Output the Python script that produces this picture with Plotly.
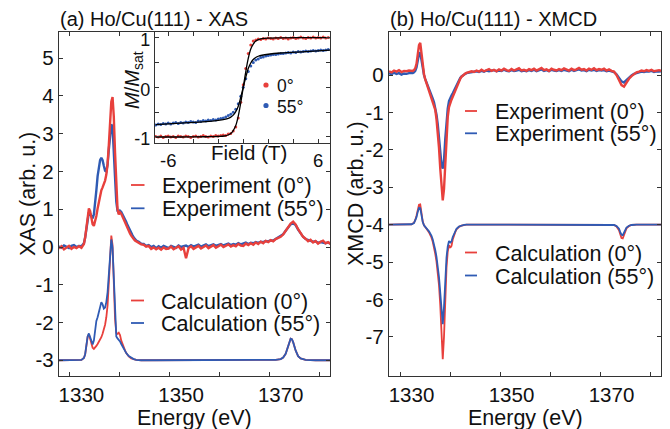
import plotly.graph_objects as go

# ---------------- data ----------------
E_EXP = [1325.5, 1326.0, 1326.5, 1327.0, 1327.5, 1328.0, 1328.5, 1329.0, 1329.5, 1330.0,
         1330.25, 1330.5, 1330.75, 1331.0, 1331.25, 1331.5, 1331.75, 1332.0, 1332.25, 1332.5,
         1332.75, 1333.0, 1333.25, 1333.5, 1333.75, 1334.0, 1334.25, 1334.5, 1334.75, 1335.0,
         1335.25, 1335.5, 1335.75, 1336.0, 1336.25, 1336.5, 1336.75, 1337.0, 1337.25, 1337.5,
         1337.75, 1338.0, 1338.25, 1338.5, 1338.75, 1339.0, 1339.25, 1339.5, 1339.75, 1340.0,
         1340.25, 1340.5, 1340.75, 1341.0,
         1341.5, 1342.0, 1342.5, 1343.0, 1343.5, 1344.0, 1344.5, 1345.0, 1345.5, 1346.0,
         1346.5, 1347.0, 1347.5, 1348.0, 1348.5, 1349.0, 1349.5, 1350.0, 1350.5, 1351.0,
         1351.5, 1352.0, 1352.5, 1353.0, 1353.5, 1354.0, 1354.5, 1355.0, 1355.5, 1356.0,
         1356.5, 1357.0, 1357.5, 1358.0, 1358.5, 1359.0, 1359.5, 1360.0, 1360.5, 1361.0,
         1361.5, 1362.0, 1362.5, 1363.0, 1363.5, 1364.0, 1364.5, 1365.0, 1365.5, 1366.0,
         1366.5, 1367.0, 1367.5, 1368.0, 1368.5, 1369.0, 1369.5, 1370.0, 1370.5, 1371.0,
         1371.5, 1372.0, 1372.5, 1373.0, 1373.5, 1374.0, 1374.5, 1375.0, 1375.5, 1376.0,
         1376.5, 1377.0, 1377.5, 1378.0, 1378.5, 1379.0, 1379.5, 1380.0]

XAS_EXP_0 = [-0.04, 0.02, -0.06, -0.01, 0.03, -0.05, 0.0, -0.03, 0.02, -0.02,
             0.02, 0.08, 0.25, 0.55, 0.88, 1.02, 0.95, 0.74, 0.60, 0.56,
             0.66, 0.82, 1.02, 1.22, 1.38, 1.50, 1.58, 1.66, 1.76, 1.92,
             2.20, 2.70, 3.35, 3.85, 3.97, 3.45, 2.50, 1.55, 1.00, 0.86,
             0.92, 0.88, 0.80, 0.76, 0.66, 0.60, 0.50, 0.43, 0.36, 0.30,
             0.24, 0.21, 0.17, 0.15,
             0.12, 0.07, 0.06, 0.01, 0.03, -0.05, -0.01, -0.06, -0.02, -0.07,
             -0.01, -0.05, -0.04, 0.01, -0.06, -0.03, 0.02, -0.07, -0.02, -0.30,
             -0.03, 0.02, -0.05, -0.01, 0.03, -0.04, 0.01, 0.04, -0.03, 0.02,
             0.05, -0.02, 0.01, 0.06, 0.0, 0.03, 0.07, 0.01, 0.05, 0.02,
             0.08, 0.04, 0.03, 0.09, 0.05, 0.10, 0.06, 0.12, 0.08, 0.14,
             0.10, 0.16, 0.13, 0.18, 0.15, 0.21, 0.23, 0.27, 0.33, 0.42,
             0.53, 0.62, 0.67, 0.60, 0.47, 0.36, 0.27, 0.22, 0.15, 0.19,
             0.12, 0.16, 0.09, 0.14, 0.17, 0.10, 0.13, 0.08]

XAS_EXP_55 = [0.02, -0.02, 0.04, 0.01, -0.03, 0.03, 0.05, 0.0, 0.03, 0.02,
              0.05, 0.10, 0.25, 0.52, 0.80, 0.92, 0.88, 0.80, 0.76, 0.86,
              1.12, 1.50, 1.88, 2.18, 2.30, 2.36, 2.30, 2.15, 2.02, 2.00,
              2.18, 2.58, 2.98, 3.25, 3.18, 2.65, 1.85, 1.20, 0.96, 0.90,
              0.96, 0.93, 0.87, 0.80, 0.73, 0.66, 0.58, 0.50, 0.43, 0.37,
              0.31, 0.25, 0.21, 0.17,
              0.14, 0.09, 0.08, 0.03, 0.05, 0.0, 0.03, -0.03, 0.02, -0.02,
              0.03, 0.0, -0.03, 0.03, 0.01, -0.02, 0.04, 0.0, 0.02, 0.04,
              0.0, 0.05, 0.01, 0.03, 0.06, 0.01, 0.04, 0.07, 0.02, 0.05,
              0.07, 0.03, 0.05, 0.08, 0.04, 0.06, 0.09, 0.05, 0.08, 0.06,
              0.10, 0.07, 0.09, 0.12, 0.08, 0.11, 0.10, 0.13, 0.11, 0.14,
              0.13, 0.16, 0.15, 0.18, 0.17, 0.21, 0.24, 0.28, 0.34, 0.43,
              0.53, 0.60, 0.63, 0.58, 0.46, 0.35, 0.27, 0.21, 0.18, 0.16,
              0.14, 0.15, 0.11, 0.13, 0.12, 0.10, 0.12, 0.09]

XMCD_EXP_0 = [0.10, 0.07, 0.12, 0.09, 0.13, 0.08, 0.11, 0.10, 0.12, 0.11,
              0.11, 0.13, 0.18, 0.30, 0.55, 0.80, 0.86, 0.55, 0.22, 0.02,
              -0.12, -0.22, -0.30, -0.38, -0.47, -0.57, -0.67, -0.78, -0.93, -1.18,
              -1.50, -1.95, -2.50, -3.05, -3.35, -3.05, -2.30, -1.60, -1.12, -0.86,
              -0.74, -0.66, -0.58, -0.50, -0.40, -0.31, -0.23, -0.16, -0.10, -0.05,
              -0.01, 0.02, 0.04, 0.06,
              0.07, 0.10, 0.08, 0.12, 0.09, 0.14, 0.10, 0.13, 0.16, 0.11,
              0.14, 0.10, 0.15, 0.12, 0.17, 0.13, 0.11, 0.16, 0.12, 0.15,
              0.18, 0.12, 0.14, 0.11, 0.16, 0.13, 0.17, 0.12, 0.15, 0.19,
              0.13, 0.15, 0.11, 0.17, 0.14, 0.12, 0.16, 0.13, 0.18, 0.14,
              0.12, 0.17, 0.13, 0.15, 0.19, 0.14, 0.16, 0.12, 0.17, 0.14,
              0.18, 0.13, 0.16, 0.14, 0.17, 0.12, 0.15, 0.11, 0.09, 0.0,
              -0.14, -0.27, -0.31, -0.20, -0.10, -0.03, 0.03, 0.07, 0.09, 0.12,
              0.10, 0.13, 0.11, 0.14, 0.10, 0.12, 0.13, 0.11]

XMCD_EXP_55 = [0.05, 0.02, 0.06, 0.03, 0.05, 0.01, 0.04, 0.03, 0.05, 0.04,
               0.05, 0.07, 0.11, 0.20, 0.38, 0.56, 0.60, 0.40, 0.15, 0.0,
               -0.11, -0.19, -0.27, -0.34, -0.43, -0.53, -0.63, -0.73, -0.86, -1.06,
               -1.32, -1.66, -2.05, -2.40, -2.50, -2.28, -1.72, -1.22, -0.90, -0.70,
               -0.60, -0.55, -0.49, -0.42, -0.34, -0.26, -0.19, -0.13, -0.08, -0.04,
               -0.01, 0.02, 0.03, 0.05,
               0.06, 0.08, 0.07, 0.10, 0.08, 0.11, 0.09, 0.12, 0.10, 0.11,
               0.13, 0.10, 0.12, 0.11, 0.14, 0.11, 0.10, 0.13, 0.11, 0.12,
               0.14, 0.10, 0.12, 0.10, 0.13, 0.11, 0.14, 0.10, 0.12, 0.15,
               0.11, 0.13, 0.10, 0.14, 0.12, 0.11, 0.13, 0.11, 0.14, 0.12,
               0.10, 0.14, 0.11, 0.13, 0.15, 0.12, 0.13, 0.10, 0.14, 0.12,
               0.14, 0.11, 0.13, 0.12, 0.13, 0.10, 0.12, 0.10, 0.08, 0.02,
               -0.08, -0.17, -0.20, -0.13, -0.06, -0.01, 0.03, 0.05, 0.07, 0.09,
               0.08, 0.10, 0.09, 0.11, 0.08, 0.10, 0.09, 0.10]

E_CALC = [1325.5, 1327.0, 1329.0, 1330.0, 1330.5, 1330.75, 1331.0, 1331.25, 1331.5, 1331.75,
          1332.0, 1332.25, 1332.5, 1332.75, 1333.0, 1333.25, 1333.5, 1333.75, 1334.0, 1334.25,
          1334.5, 1334.75, 1335.0, 1335.25, 1335.5, 1335.75, 1336.0, 1336.25, 1336.5, 1336.75,
          1337.0, 1337.25, 1337.5, 1337.75, 1338.0, 1338.25, 1338.5, 1338.75, 1339.0, 1339.5,
          1340.0, 1340.5, 1341.0, 1342.0, 1345.0, 1350.0, 1355.0, 1360.0, 1365.0, 1368.0,
          1369.0, 1370.0, 1370.5, 1371.0, 1371.5, 1371.75, 1372.0, 1372.25, 1372.5, 1373.0,
          1373.5, 1374.0, 1375.0, 1377.0, 1380.0]

XAS_CALC_0 = [-3.0, -3.0, -3.0, -2.99, -2.94, -2.85, -2.62, -2.38, -2.31, -2.42,
              -2.58, -2.67, -2.70, -2.67, -2.62, -2.57, -2.52, -2.46, -2.39, -2.30,
              -2.20, -2.06, -1.86, -1.55, -0.95, -0.25, 0.30, 0.05, -0.95, -1.90,
              -2.28, -2.30, -2.27, -2.33, -2.48, -2.58, -2.67, -2.74, -2.81, -2.90,
              -2.95, -2.98, -2.99, -3.0, -3.0, -3.0, -3.0, -3.0, -3.0, -3.0,
              -2.99, -2.97, -2.93, -2.83, -2.62, -2.50, -2.43, -2.44, -2.52, -2.74,
              -2.89, -2.95, -2.99, -3.0, -3.0]

XAS_CALC_55 = [-3.0, -3.0, -3.0, -2.99, -2.94, -2.84, -2.60, -2.37, -2.29, -2.38,
               -2.52, -2.58, -2.48, -2.20, -1.96, -1.86, -1.73, -1.56, -1.46, -1.52,
               -1.63, -1.60, -1.46, -1.20, -0.70, -0.20, 0.20, -0.02, -1.00, -1.95,
               -2.37, -2.42, -2.45, -2.50, -2.57, -2.64, -2.70, -2.76, -2.81, -2.89,
               -2.94, -2.97, -2.99, -3.0, -3.0, -3.0, -3.0, -3.0, -3.0, -3.0,
               -2.99, -2.97, -2.93, -2.83, -2.62, -2.50, -2.43, -2.44, -2.52, -2.74,
               -2.89, -2.95, -2.99, -3.0, -3.0]

XMCD_CALC_0 = [-4.0, -4.0, -4.0, -3.99, -3.95, -3.88, -3.76, -3.60, -3.47, -3.46,
               -3.70, -3.92, -4.02, -4.08, -4.12, -4.16, -4.21, -4.27, -4.35, -4.46,
               -4.60, -4.78, -4.99, -5.26, -5.62, -6.15, -6.95, -7.60, -7.00, -5.85,
               -5.15, -4.72, -4.55, -4.62, -4.57, -4.40, -4.28, -4.20, -4.13, -4.06,
               -4.03, -4.01, -4.0, -4.0, -4.0, -4.0, -4.0, -4.0, -4.0, -4.0,
               -4.0, -4.0, -4.01, -4.05, -4.15, -4.26, -4.36, -4.37, -4.27, -4.10,
               -4.04, -4.01, -4.0, -4.0, -4.0]

XMCD_CALC_55 = [-4.0, -4.0, -4.0, -3.99, -3.96, -3.90, -3.80, -3.66, -3.55, -3.56,
                -3.76, -3.93, -4.02, -4.07, -4.10, -4.14, -4.18, -4.23, -4.30, -4.40,
                -4.52, -4.68, -4.86, -5.08, -5.40, -5.82, -6.32, -6.66, -6.20, -5.40,
                -4.88, -4.58, -4.44, -4.48, -4.45, -4.33, -4.24, -4.17, -4.11, -4.05,
                -4.02, -4.01, -4.0, -4.0, -4.0, -4.0, -4.0, -4.0, -4.0, -4.0,
                -4.0, -4.0, -4.01, -4.04, -4.11, -4.20, -4.27, -4.28, -4.21, -4.08,
                -4.03, -4.01, -4.0, -4.0, -4.0]

FIELD = [-7.0, -6.8, -6.6, -6.4, -6.2, -6.0, -5.8, -5.6, -5.4, -5.2,
         -5.0, -4.8, -4.6, -4.4, -4.2, -4.0, -3.8, -3.6, -3.4, -3.2,
         -3.0, -2.8, -2.6, -2.4, -2.2, -2.0, -1.8, -1.6, -1.4, -1.2,
         -1.0, -0.8, -0.6, -0.4, -0.2, 0.0, 0.2, 0.4, 0.6, 0.8,
         1.0, 1.2, 1.4, 1.6, 1.8, 2.0, 2.2, 2.4, 2.6, 2.8,
         3.0, 3.2, 3.4, 3.6, 3.8, 4.0, 4.2, 4.4, 4.6, 4.8,
         5.0, 5.2, 5.4, 5.6, 5.8, 6.0, 6.2, 6.4, 6.6, 6.8]

M_0 = [-0.99, -1.00, -0.98, -1.01, -0.99, -0.98, -1.00, -0.99, -1.01, -0.98,
       -0.99, -1.00, -0.98, -0.99, -1.01, -0.99, -0.98, -1.00, -0.99, -0.97,
       -0.99, -1.00, -0.98, -0.99, -0.97, -0.98, -0.97, -0.96, -0.97, -0.94,
       -0.93, -0.88, -0.80, -0.62, -0.30, 0.05, 0.38, 0.68, 0.85, 0.93,
       0.95, 0.97, 0.96, 0.98, 0.97, 0.99, 0.98, 0.97, 0.99, 0.98,
       1.00, 0.98, 0.99, 0.97, 0.99, 1.00, 0.98, 0.99, 1.01, 0.99,
       0.98, 1.00, 0.99, 1.01, 0.99, 1.00, 0.99, 1.01, 0.99, 1.00]

M_55 = [-0.76, -0.74, -0.75, -0.73, -0.74, -0.72, -0.74, -0.72, -0.71, -0.73,
        -0.71, -0.72, -0.70, -0.71, -0.69, -0.70, -0.71, -0.68, -0.69, -0.67,
        -0.68, -0.66, -0.67, -0.65, -0.66, -0.64, -0.63, -0.62, -0.60, -0.57,
        -0.54, -0.50, -0.44, -0.33, -0.18, 0.0, 0.17, 0.32, 0.43, 0.50,
        0.55, 0.57, 0.60, 0.61, 0.63, 0.64, 0.65, 0.66, 0.66, 0.67,
        0.68, 0.68, 0.69, 0.70, 0.69, 0.71, 0.70, 0.72, 0.71, 0.72,
        0.73, 0.72, 0.73, 0.74, 0.73, 0.74, 0.75, 0.74, 0.75, 0.76]

FIELD_FIT = [-7.0, -5.0, -3.0, -2.0, -1.5, -1.2, -1.0, -0.8, -0.6, -0.4, -0.2, 0.0,
             0.2, 0.4, 0.6, 0.8, 1.0, 1.2, 1.5, 2.0, 3.0, 5.0, 7.0]
FIT_0 = [-1.0, -1.0, -0.995, -0.99, -0.98, -0.96, -0.93, -0.87, -0.77, -0.58, -0.31, 0.0,
         0.31, 0.58, 0.77, 0.87, 0.93, 0.96, 0.98, 0.99, 0.995, 1.0, 1.0]
FIT_55 = [-0.75, -0.72, -0.69, -0.665, -0.645, -0.625, -0.60, -0.56, -0.49, -0.38, -0.20, 0.0,
          0.20, 0.38, 0.49, 0.56, 0.60, 0.625, 0.645, 0.665, 0.69, 0.72, 0.75]

E_TICK_LABELS = [1330, 1350, 1370]
E_TICK_MARKS = [1327.7, 1337.7, 1347.7, 1357.7, 1367.7, 1377.7]
XAS_TICKS = [-3, -2, -1, 0, 1, 2, 3, 4, 5]
XMCD_TICKS = [-7, -6, -5, -4, -3, -2, -1, 0]
FIELD_LABELS = [-6, 6]
FIELD_MARKS = [-6, -4, -2, 0, 2, 4, 6]
M_LABELS = [-1, 0, 1]
M_MARKS = [-1, -0.5, 0, 0.5, 1]

# ---------------- style ----------------
RED = "#e8403c"
BLUE = "#2f5bb4"
FRAME = "#333333"
TXT = "#111111"
FONT = "Liberation Sans, Arial, Helvetica, sans-serif"
OFF = 8                      # the page body margin shifts the figure by 8 px
W, H = 670 - OFF, 429 - OFF


def PX(x):
    return (x - OFF) / W


def PY(y):
    return 1 - (y - OFF) / H


def labels(vals):
    return [str(v) for v in vals]   # plain hyphen-minus, as in the reference


fig = go.Figure()

# left panel: XAS
fig.add_trace(go.Scatter(x=E_EXP, y=XAS_EXP_55, mode="lines", name="Experiment (55°)",
                         line=dict(color=BLUE, width=2.4), xaxis="x", yaxis="y"))
fig.add_trace(go.Scatter(x=E_EXP, y=XAS_EXP_0, mode="lines", name="Experiment (0°)",
                         line=dict(color=RED, width=2.4), xaxis="x", yaxis="y"))
fig.add_trace(go.Scatter(x=E_CALC, y=XAS_CALC_0, mode="lines", name="Calculation (0°)",
                         line=dict(color=RED, width=1.8), xaxis="x", yaxis="y"))
fig.add_trace(go.Scatter(x=E_CALC, y=XAS_CALC_55, mode="lines", name="Calculation (55°)",
                         line=dict(color=BLUE, width=1.8), xaxis="x", yaxis="y"))

# right panel: XMCD
fig.add_trace(go.Scatter(x=E_EXP, y=XMCD_EXP_55, mode="lines", name="Experiment (55°)",
                         line=dict(color=BLUE, width=2.4), xaxis="x2", yaxis="y2"))
fig.add_trace(go.Scatter(x=E_EXP, y=XMCD_EXP_0, mode="lines", name="Experiment (0°)",
                         line=dict(color=RED, width=2.4), xaxis="x2", yaxis="y2"))
fig.add_trace(go.Scatter(x=E_CALC, y=XMCD_CALC_0, mode="lines", name="Calculation (0°)",
                         line=dict(color=RED, width=1.8), xaxis="x2", yaxis="y2"))
fig.add_trace(go.Scatter(x=E_CALC, y=XMCD_CALC_55, mode="lines", name="Calculation (55°)",
                         line=dict(color=BLUE, width=1.8), xaxis="x2", yaxis="y2"))

# inset: magnetisation
fig.add_trace(go.Scatter(x=FIELD, y=M_55, mode="markers", name="55°",
                         marker=dict(color=BLUE, size=3), xaxis="x3", yaxis="y3"))
fig.add_trace(go.Scatter(x=FIELD, y=M_0, mode="markers", name="0°",
                         marker=dict(color=RED, size=3), xaxis="x3", yaxis="y3"))
fig.add_trace(go.Scatter(x=FIELD_FIT, y=FIT_55, mode="lines", name="fit 55°", line_shape="spline",
                         line=dict(color="black", width=1.3), xaxis="x3", yaxis="y3"))
fig.add_trace(go.Scatter(x=FIELD_FIT, y=FIT_0, mode="lines", name="fit 0°", line_shape="spline",
                         line=dict(color="black", width=1.3), xaxis="x3", yaxis="y3"))

TICKFONT = dict(family=FONT, size=20.5, color=TXT)
base = dict(showline=True, linecolor=FRAME, linewidth=1.3, mirror="ticks", showgrid=False,
            zeroline=False, tickcolor=FRAME, tickwidth=1.2, automargin=False,
            tickfont=TICKFONT)


def minor(vals):
    return dict(tickmode="array", tickvals=vals, ticks="inside", ticklen=4,
                tickwidth=1.2, tickcolor=FRAME)


ydom = [PY(376), PY(32)]
xaxis_main = dict(base, range=[1325.5, 1379.9], tickmode="array", tickvals=E_TICK_LABELS,
                  ticktext=labels(E_TICK_LABELS), ticks="", minor=minor(E_TICK_MARKS))

fig.update_layout(
    width=W, height=H,
    margin=dict(l=0, r=0, t=0, b=0),
    paper_bgcolor="white", plot_bgcolor="white",
    showlegend=False,
    font=dict(family=FONT, color=TXT),
    xaxis=dict(xaxis_main, domain=[PX(59), PX(330)], anchor="y"),
    yaxis=dict(base, domain=ydom, anchor="x", range=[-3.417, 5.695], tickmode="array",
               tickvals=XAS_TICKS, ticktext=labels(XAS_TICKS), ticks="inside", ticklen=4),
    xaxis2=dict(xaxis_main, domain=[PX(389), PX(661)], anchor="y2"),
    yaxis2=dict(base, domain=ydom, anchor="x2", range=[-8.048, 1.15], tickmode="array",
                tickvals=XMCD_TICKS, ticktext=labels(XMCD_TICKS), ticks="inside", ticklen=4),
    xaxis3=dict(base, domain=[PX(155), PX(330)], anchor="y3", range=[-7.06, 6.94],
                tickmode="array", tickvals=FIELD_LABELS, ticktext=labels(FIELD_LABELS),
                ticks="", minor=minor(FIELD_MARKS),
                tickfont=dict(family=FONT, size=18.5, color=TXT)),
    yaxis3=dict(base, domain=[PY(143.3), PY(32)], anchor="x3", range=[-1.127, 1.113],
                tickmode="array", tickvals=M_LABELS, ticktext=labels(M_LABELS),
                ticks="", minor=minor(M_MARKS), ticklabelshift=2,
                tickfont=dict(family=FONT, size=18, color=TXT)),
)

ann = []


def text(x, y, s, size=21.5, xanchor="left", yanchor="middle", angle=0):
    ann.append(dict(x=PX(x), y=PY(y), xref="paper", yref="paper", text=s, showarrow=False,
                    xanchor=xanchor, yanchor=yanchor, textangle=angle,
                    font=dict(family=FONT, size=size, color=TXT)))


text(58, 19, "(a) Ho/Cu(111) - XAS", size=20)
text(388, 19, "(b) Ho/Cu(111) - XMCD", size=20)
text(194.5, 418, "Energy (eV)", size=21.5, xanchor="center")
text(525, 418, "Energy (eV)", size=21.5, xanchor="center")
text(28, 194, "XAS (arb. u.)", size=21.5, xanchor="center", angle=-90)
text(356, 193, "XMCD (arb. u.)", size=21.5, xanchor="center", angle=-90)
text(248.7, 152.7, "Field (T)", size=20.5, xanchor="center")
text(133, 80, "<i>M</i>/<i>M</i><sub>sat</sub>", size=20, xanchor="center", angle=-90)

shapes = []


def leg(x0, x1, y, color, label, tx):
    shapes.append(dict(type="line", xref="paper", yref="paper", x0=PX(x0), x1=PX(x1),
                       y0=PY(y), y1=PY(y), line=dict(color=color, width=1.8)))
    text(tx, y + 1, label)


leg(131, 144.5, 185, RED, "Experiment (0°)", 159.5)
leg(131, 144.5, 208.3, BLUE, "Experiment (55°)", 159.5)
leg(131, 144, 300.5, RED, "Calculation (0°)", 159)
leg(131, 144, 323, BLUE, "Calculation (55°)", 159)
leg(465, 477, 111, RED, "Experiment (0°)", 493)
leg(465, 477, 133.3, BLUE, "Experiment (55°)", 493)
leg(465, 477, 252.5, RED, "Calculation (0°)", 492.5)
leg(465, 477, 275.5, BLUE, "Calculation (55°)", 492.5)

for cy, col, lab in [(85, RED, "0°"), (105.5, BLUE, "55°")]:
    r = 2.6
    shapes.append(dict(type="circle", xref="paper", yref="paper", x0=PX(266 - r), x1=PX(266 + r),
                       y0=PY(cy + r), y1=PY(cy - r), fillcolor=col, line=dict(width=0)))
    text(274.5, cy + 1, lab, size=17.5)

fig.update_layout(annotations=ann, shapes=shapes)
fig.write_html("out.html")
